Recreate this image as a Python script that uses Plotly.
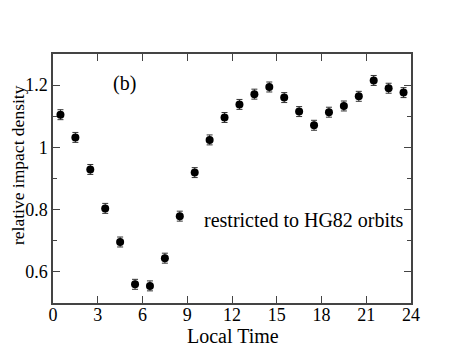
import plotly.graph_objects as go

local_time = [0.5, 1.5, 2.5, 3.5, 4.5, 5.5, 6.5, 7.5, 8.5, 9.5, 10.5, 11.5,
              12.5, 13.5, 14.5, 15.5, 16.5, 17.5, 18.5, 19.5, 20.5, 21.5, 22.5, 23.5]
density = [1.105, 1.032, 0.929, 0.804, 0.696, 0.560, 0.555, 0.644, 0.779, 0.919, 1.024, 1.096,
           1.138, 1.171, 1.194, 1.160, 1.115, 1.071, 1.113, 1.133, 1.164, 1.215, 1.190, 1.176]
err = [0.016] * 24
x_ticks = [0, 3, 6, 9, 12, 15, 18, 21, 24]
y_ticks = [0.6, 0.8, 1.0, 1.2]
y_tick_labels = ["0.6", "0.8", "1", "1.2"]

font = "Liberation Serif, Times New Roman, serif"
axcol = "#444444"

fig = go.Figure()
fig.add_trace(go.Scatter(
    x=local_time, y=density, mode="markers",
    marker=dict(color="black", size=8),
    error_y=dict(type="data", array=err, color="#333333", thickness=1, width=3),
    showlegend=False,
))

fig.add_annotation(x=4.76, y=1.206, xref="x", yref="y", text="(b)", showarrow=False,
                   font=dict(family=font, size=20, color="black"))
fig.add_annotation(x=23.65, y=0.768, xref="x", yref="y", text="restricted to HG82 orbits",
                   showarrow=False, xanchor="right",
                   font=dict(family=font, size=20, color="black"))
fig.add_annotation(x=0.503, y=-0.133, xref="paper", yref="paper", text="Local Time",
                   showarrow=False, xanchor="center", yanchor="middle",
                   font=dict(family=font, size=20, color="black"))
fig.add_annotation(x=-0.098, y=0.554, xref="paper", yref="paper", text="relative impact density",
                   showarrow=False, xanchor="center", yanchor="middle", textangle=-90,
                   font=dict(family=font, size=17.5, color="black"))

# page body has an 8px margin, so the figure is sized to fit inside the window
fig.update_layout(
    width=455, height=350,
    margin=dict(l=45, r=52, t=46, b=55, autoexpand=False),
    paper_bgcolor="white", plot_bgcolor="white",
    font=dict(family=font, size=18, color="black"),
)
fig.update_xaxes(
    range=[0, 24], tickvals=x_ticks, ticks="inside", ticklen=7, tickcolor=axcol,
    showline=True, linecolor=axcol, linewidth=1.5, mirror="ticks", showgrid=False,
    zeroline=False, tickfont=dict(family=font, size=18), automargin=False,
    ticklabelstandoff=-5,
)
fig.update_yaxes(
    range=[0.5, 1.3], tickvals=y_ticks, ticktext=y_tick_labels, ticks="inside", ticklen=7,
    tickcolor=axcol, showline=True, linecolor=axcol, linewidth=1.5, mirror="ticks",
    showgrid=False, zeroline=False, tickfont=dict(family=font, size=18), automargin=False,
    minor=dict(dtick=0.1, tick0=0.5, ticks="inside", ticklen=4, tickcolor=axcol, showgrid=False),
)

fig.write_html("out.html")
